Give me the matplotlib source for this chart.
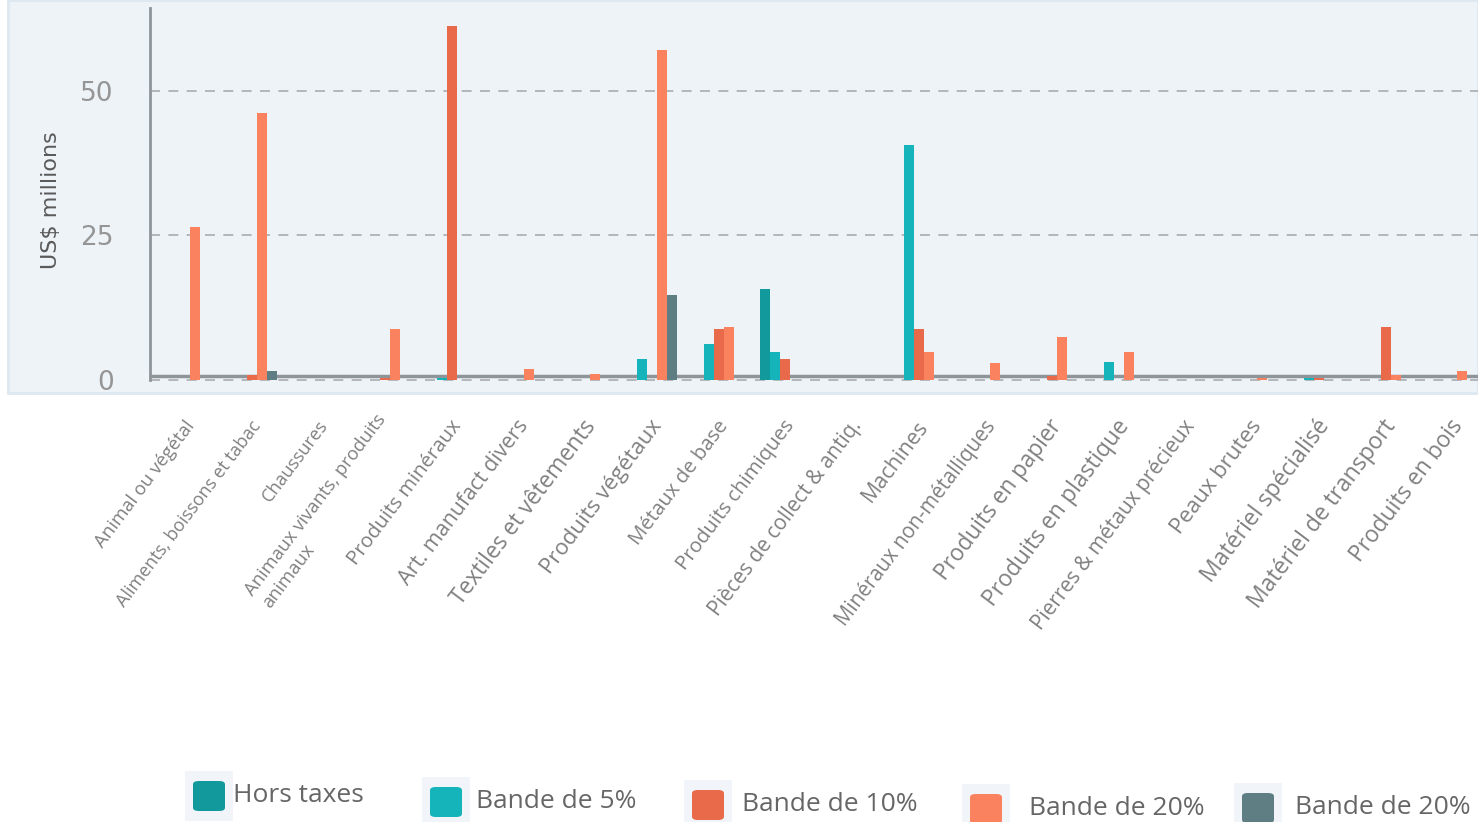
import matplotlib
matplotlib.use("Agg")
import matplotlib.pyplot as plt
import matplotlib.transforms as mtransforms
from matplotlib.patches import Rectangle, FancyBboxPatch
import numpy as np

categories = ["Animal ou végétal", "Aliments, boissons et tabac", "Chaussures",
              "Animaux vivants, produits\nanimaux", "Produits minéraux", "Art. manufact divers",
              "Textiles et vêtements", "Produits végétaux", "Métaux de base", "Produits chimiques",
              "Pièces de collect & antiq.", "Machines", "Minéraux non-métalliques",
              "Produits en papier", "Produits en plastique", "Pierres & métaux précieux",
              "Peaux brutes", "Matériel spécialisé", "Matériel de transport", "Produits en bois"]

hors_taxes = [0, 0, 0, 0, 0, 0, 0, 0, 0, 15.7, 0, 0, 0, 0, 0, 0, 0, 0, 0, 0]
bande_5 = [0, 0, 0, 0, 0.3, 0, 0, 3.6, 6.2, 4.8, 0, 40.7, 0, 0, 3.1, 0, 0, 0.3, 0, 0]
bande_10 = [0, 0.8, 0, 0.4, 61.2, 0, 0, 0, 8.8, 3.6, 0, 8.8, 0, 0.7, 0, 0, 0, 0.3, 9.2, 0]
bande_20 = [26.5, 46.2, 0, 8.8, 0, 1.9, 1.0, 57.1, 9.2, 0, 0, 4.8, 2.9, 7.4, 4.8, 0, 0.3, 0, 0.8, 1.6]
bande_20b = [0, 1.6, 0, 0, 0, 0, 0, 14.7, 0, 0, 0, 0, 0, 0, 0, 0, 0, 0, 0, 0]

series_names = ["Hors taxes", "Bande de 5%", "Bande de 10%", "Bande de 20%", "Bande de 20%"]
series_values = [hors_taxes, bande_5, bande_10, bande_20, bande_20b]
colors = ["#12999b", "#14b4ba", "#e86a4b", "#fa825f", "#5f7e83"]

label_sizes = [13.3, 13, 13, 13.2, 14.7, 15.3, 16.4, 16, 14.7, 14.7, 15, 15.5, 14.8, 16.3, 16.5,
               15, 16, 16.6, 16.7, 16.4]

W, H = 1478, 822
fig = plt.figure(figsize=(W / 100, H / 100), dpi=100)

# light panel behind the plot
fig.patches.append(Rectangle((8 / W, 1 - 393 / H), 1 - 8 / W, 393 / H, transform=fig.transFigure,
                             facecolor="#eef3f8", edgecolor="#dde8f1", lw=2, zorder=-10))

ax = fig.add_axes([150 / W, 1 - 392 / H, 1 - 150 / W, 384 / H])
ax.set_facecolor("none")

x = np.arange(len(categories))
bw = 0.15
for k, (vals, c) in enumerate(zip(series_values, colors)):
    ax.bar(x + (k - 2) * bw, vals, width=bw, color=c, zorder=3)

ax.set_xlim(-0.525, 19.385)
ax.set_ylim(-2.08, 64.35)

for s in ["top", "right", "bottom"]:
    ax.spines[s].set_visible(False)
ax.spines["left"].set_bounds(0, 64.35)
ax.spines["left"].set_color("#8d949a")
ax.spines["left"].set_linewidth(2)
ax.axhline(0.7, color="#8d949a", lw=2.5, zorder=2)

ax.set_yticks([0, 25, 50])
ax.yaxis.grid(True, color="#a9adb2", ls=(0, (6, 5)), lw=1.2, zorder=1)
ax.tick_params(axis="y", length=0, pad=26, labelsize=19, labelcolor="#959595")
for t in ax.get_yticklabels():
    t.set_family("DejaVu Sans")
ax.set_ylabel("US$ millions", fontsize=16, color="#5a5a5a", labelpad=14,
              family=["Liberation Sans Narrow", "DejaVu Sans"])

ax.set_xticks(x)
ax.set_xticklabels(categories, rotation=53, ha="right", va="center",
                   rotation_mode="anchor", color="#808080", family="Open Sans",
                   multialignment="left")
ax.tick_params(axis="x", length=0, pad=22)
offset = mtransforms.ScaledTranslation(0.06, 0, fig.dpi_scale_trans)
for t, s in zip(ax.get_xticklabels(), label_sizes):
    t.set_fontsize(s)
    t.set_transform(t.get_transform() + offset)

# legend
leg_sq = [193, 430, 692, 970, 1242]
leg_txt = [233, 476, 742, 1029, 1295]
leg_y = [795, 801, 804, 808, 807]
for name, c, sx, tx, ly in zip(series_names, colors, leg_sq, leg_txt, leg_y):
    fig.patches.append(Rectangle(((sx - 8) / W, 1 - (ly + 26) / H), 48 / W, 50 / H,
                                 transform=fig.transFigure, facecolor="#f1f5f9",
                                 edgecolor="none", zorder=-5))
    fig.patches.append(FancyBboxPatch((sx / W, 1 - (ly + 16) / H), 32 / W, 30 / H,
                                      boxstyle="round,pad=0,rounding_size=0.004",
                                      transform=fig.transFigure, facecolor=c,
                                      edgecolor="none", zorder=-4))
    fig.text(tx / W, 1 - ly / H, name, fontsize=19, color="#666666", va="center",
             family=["Liberation Sans Narrow", "Open Sans"])

fig.savefig("out.png", dpi=100)
